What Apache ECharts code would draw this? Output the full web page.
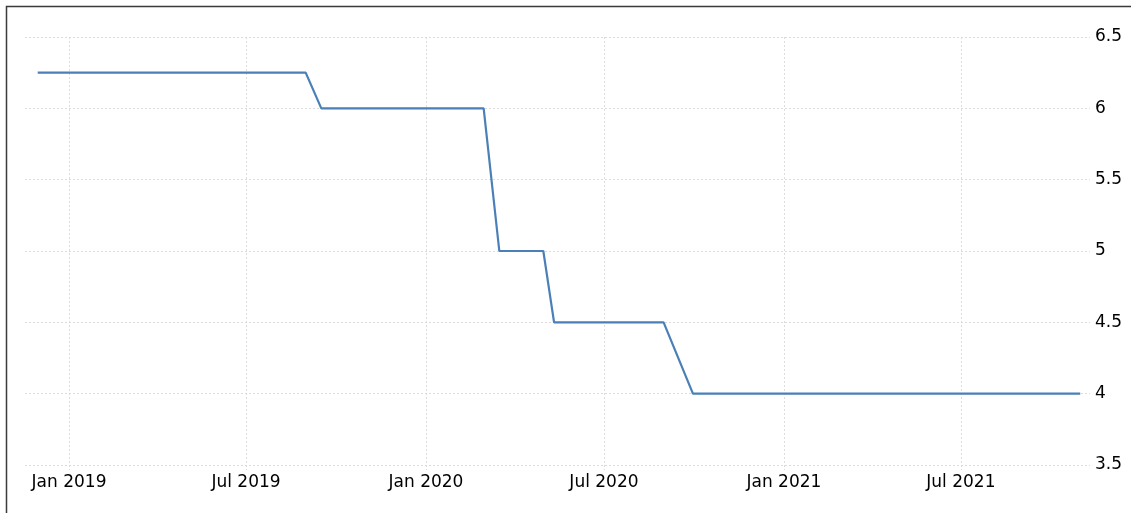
<!DOCTYPE html>
<html>
<head>
<meta charset="utf-8">
<script src="https://cdn.jsdelivr.net/npm/echarts@6/dist/echarts.min.js"></script>
<style>
html, body { margin: 0; padding: 0; background: #fff; overflow: hidden; }
#main { width: 1131px; height: 513px; }
</style>
</head>
<body>
<div id="main"></div>
<script>
// rate observations (month ends plus decision dates)
var dates = [
  "2018-11-30", "2018-12-31",
  "2019-01-31", "2019-02-28", "2019-03-31", "2019-04-30", "2019-05-31", "2019-06-30",
  "2019-07-31", "2019-08-31", "2019-09-16", "2019-09-30", "2019-10-31", "2019-11-30", "2019-12-31",
  "2020-01-31", "2020-02-29", "2020-03-16", "2020-03-31", "2020-04-30", "2020-05-11", "2020-05-31",
  "2020-06-30", "2020-07-31", "2020-08-31", "2020-09-30", "2020-10-31", "2020-11-30", "2020-12-31",
  "2021-01-31", "2021-02-28", "2021-03-31", "2021-04-30", "2021-05-31", "2021-06-30",
  "2021-07-31", "2021-08-31", "2021-09-30", "2021-10-31"
];
var rates = [
  6.25, 6.25,
  6.25, 6.25, 6.25, 6.25, 6.25, 6.25,
  6.25, 6.25, 6, 6, 6, 6, 6,
  6, 6, 5, 5, 5, 4.5, 4.5,
  4.5, 4.5, 4.5, 4, 4, 4, 4,
  4, 4, 4, 4, 4, 4,
  4, 4, 4, 4
];
// x axis labels every half year
var tickDates = ["2019-01-01", "2019-07-01", "2020-01-01", "2020-07-01", "2021-01-01", "2021-07-01"];
var monthNames = ["Jan", "Feb", "Mar", "Apr", "May", "Jun", "Jul", "Aug", "Sep", "Oct", "Nov", "Dec"];

function ts(s) {
  var p = s.split("-");
  return Date.UTC(+p[0], +p[1] - 1, +p[2]);
}

var seriesData = [];
for (var i = 0; i < dates.length; i++) {
  seriesData.push([ts(dates[i]), rates[i]]);
}
var tickValues = tickDates.map(ts);

var fontName = "DejaVu Sans";
var myChart = echarts.init(document.getElementById("main"));
var option = {
  animation: false,
  grid: { left: 25, right: 41, top: 37, bottom: 48 },
  xAxis: {
    type: "value",
    min: ts("2018-11-17"),
    max: ts("2021-11-10"),
    axisLine: { show: false },
    axisTick: {
      show: true,
      length: 5,
      customValues: tickValues,
      lineStyle: { color: "#dcdcdc", type: [2, 2] }
    },
    axisLabel: {
      customValues: tickValues,
      margin: 9,
      color: "#000",
      fontSize: 17,
      fontFamily: fontName,
      formatter: function (v) {
        var d = new Date(v);
        return monthNames[d.getUTCMonth()] + " " + d.getUTCFullYear();
      }
    },
    splitLine: {
      show: true,
      lineStyle: { color: "#dcdcdc", type: [2, 2], width: 1 }
    }
  },
  yAxis: {
    type: "value",
    position: "right",
    min: 3.5,
    max: 6.5,
    interval: 0.5,
    axisLine: { show: false },
    axisTick: { show: false },
    axisLabel: {
      margin: 5,
      color: "#000",
      fontSize: 17,
      fontFamily: fontName
    },
    splitLine: {
      show: true,
      lineStyle: { color: "#dcdcdc", type: [2, 2], width: 1 }
    }
  },
  graphic: [{
    type: "rect",
    silent: true,
    shape: { x: 6.5, y: 6.5, width: 2000, height: 2000 },
    style: { fill: null, stroke: "#3a3a3a", lineWidth: 1.5 }
  }],
  series: [{
    type: "line",
    data: seriesData,
    showSymbol: false,
    lineStyle: { color: "#4a80b7", width: 2.2 },
    itemStyle: { color: "#4a80b7" }
  }]
};
myChart.setOption(option);
</script>
</body>
</html>
